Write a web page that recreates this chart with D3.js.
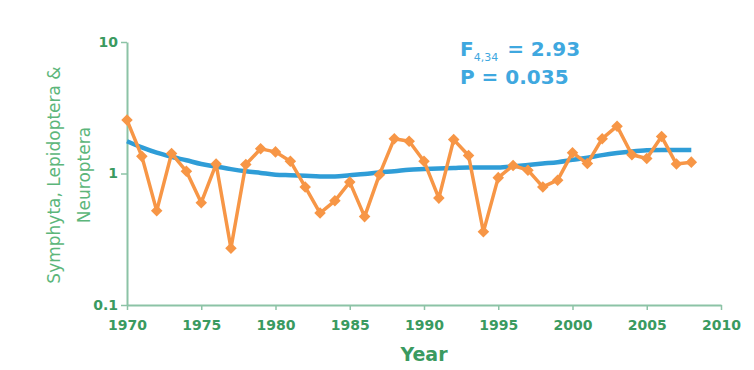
<!DOCTYPE html>
<html>
<head>
<meta charset="utf-8">
<script src="https://cdn.jsdelivr.net/npm/d3@7"></script>
<style>
  body { margin: 0; background: #fff; }
  svg { display: block; }
</style>
</head>
<body>
<div id="chart"></div>
<script>
// yearly index, log scale, with fitted trend
const years = d3.range(1970, 2009)
const observed = [2.55, 1.35, 0.52, 1.42, 1.04, 0.60, 1.18, 0.27, 1.17, 1.54,
                  1.46, 1.24, 0.79, 0.50, 0.62, 0.86, 0.47, 0.98, 1.84, 1.76,
                  1.24, 0.65, 1.81, 1.37, 0.36, 0.93, 1.15, 1.06, 0.79, 0.89,
                  1.44, 1.19, 1.84, 2.29, 1.39, 1.30, 1.91, 1.18, 1.22]
const trend = [1.76, 1.58, 1.44, 1.34, 1.26, 1.18, 1.13, 1.08, 1.04, 1.01,
               0.98, 0.97, 0.96, 0.95, 0.95, 0.97, 0.99, 1.02, 1.04, 1.07,
               1.08, 1.09, 1.10, 1.11, 1.11, 1.11, 1.13, 1.16, 1.19, 1.22,
               1.27, 1.32, 1.38, 1.43, 1.47, 1.50, 1.51, 1.51, 1.51]
const xTicks = [1970, 1975, 1980, 1985, 1990, 1995, 2000, 2005, 2010]
const yTicks = [0.1, 1, 10]

const width = 754, height = 370
const margin = ({top: 42, right: 33, bottom: 65, left: 127})

const green = "#3a9a60", axisColor = "#8cc3a6"
const orange = "#f79646", blue = "#2f9dd7"

let svg = d3.select("#chart").append("svg")
    .attr("width", width).attr("height", height)

let x = d3.scaleLinear()
    .domain([1970, 2010])
    .range([margin.left, width - margin.right])

let y = d3.scaleLog()
    .domain([0.1, 10])
    .range([height - margin.bottom, margin.top])

const xAxis = g => g
    .attr("transform", `translate(0, ${height - margin.bottom})`)
    .call(d3.axisBottom(x).tickValues(xTicks).tickFormat(d3.format("d")).tickSize(5).tickSizeOuter(0).tickPadding(10))

const yAxis = g => g
    .attr("transform", `translate(${margin.left}, 0)`)
    .call(d3.axisLeft(y).tickValues(yTicks).tickFormat(d => d).tickSize(6).tickSizeOuter(0).tickPadding(3))

for (const ax of [xAxis, yAxis]) {
    let g = svg.append("g").call(ax)
    g.select(".domain").attr("stroke", axisColor).attr("stroke-width", 2)
    g.selectAll(".tick line").attr("stroke", axisColor).attr("stroke-width", 1.5)
    g.selectAll(".tick text")
        .attr("fill", green)
        .attr("font-family", "DejaVu Sans")
        .attr("font-weight", "bold")
        .attr("font-size", 14)
}

// axis titles
svg.append("text")
    .attr("x", x(1990)).attr("y", 361)
    .attr("text-anchor", "middle")
    .attr("fill", green)
    .attr("font-family", "DejaVu Sans").attr("font-weight", "bold").attr("font-size", 19)
    .text("Year")

const yTitle = ["Symphyta, Lepidoptera &", "Neuroptera"]
svg.append("g")
    .attr("transform", `translate(60, 175) rotate(-90)`)
    .selectAll("text")
    .data(yTitle)
    .join("text")
    .attr("x", 0).attr("y", (d, i) => i * 30)
    .attr("text-anchor", "middle")
    .attr("fill", "#5cb67a")
    .attr("font-family", "DejaVu Sans").attr("font-size", 17)
    .text(d => d)

// trend line
const points = years.map((yr, i) => ({year: yr, obs: observed[i], fit: trend[i]}))

svg.append("path")
    .datum(points)
    .attr("fill", "none")
    .attr("stroke", blue)
    .attr("stroke-width", 4.5)
    .attr("d", d3.line().x(d => x(d.year)).y(d => y(d.fit)).curve(d3.curveMonotoneX))

// observed series
svg.append("path")
    .datum(points)
    .attr("fill", "none")
    .attr("stroke", orange)
    .attr("stroke-width", 3.5)
    .attr("stroke-linejoin", "round")
    .attr("d", d3.line().x(d => x(d.year)).y(d => y(d.obs)))

svg.append("g")
    .selectAll("path")
    .data(points)
    .join("path")
    .attr("transform", d => `translate(${x(d.year)}, ${y(d.obs)})`)
    .attr("d", d3.symbol(d3.symbolDiamond2, 85))
    .attr("fill", orange)

// stats annotation
let note = svg.append("g")
    .attr("fill", "#3fa8df")
    .attr("font-family", "DejaVu Sans").attr("font-weight", "bold").attr("font-size", 20)

let t1 = note.append("text").attr("x", 460).attr("y", 56)
t1.append("tspan").text("F")
t1.append("tspan").attr("font-size", 11).attr("dy", 5).attr("font-weight", "normal").text("4,34")
t1.append("tspan").attr("dy", -5).attr("dx", 2).text(" = 2.93")

note.append("text").attr("x", 460).attr("y", 84).text("P = 0.035")
</script>
</body>
</html>
